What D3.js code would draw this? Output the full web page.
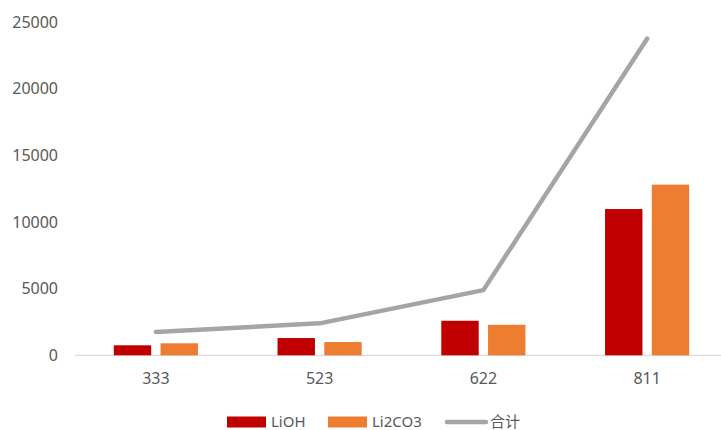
<!DOCTYPE html>
<html>
<head>
<meta charset="utf-8">
<script src="https://cdn.jsdelivr.net/npm/d3@7"></script>
<style>
  html, body { margin: 0; padding: 0; background: #fff; }
  svg { display: block; }
  text { font-family: "Noto Sans", "Noto Sans CJK SC", sans-serif; fill: #595959; }
</style>
</head>
<body>
<svg id="chart" width="721" height="430"></svg>
<script>
// Cathode grade categories and lithium salt demand per grade
const categories = ["333", "523", "622", "811"];
const lioh = [750, 1295, 2590, 10970];
const li2co3 = [900, 995, 2290, 12800];
const total = [1750, 2395, 4890, 23750];
const yTicks = [0, 5000, 10000, 15000, 20000, 25000];
const seriesNames = ["LiOH", "Li2CO3"];
const totalName = "合计";

const colors = { LiOH: "#C00000", Li2CO3: "#ED7D31", total: "#A5A5A5" };

const svg = d3.select("#chart");
const plot = { left: 74, right: 729, top: 22, bottom: 355.3 };

const x = d3.scaleBand().domain(categories).range([plot.left, plot.right]).padding(0);
const y = d3.scaleLinear().domain([0, 25000]).range([plot.bottom, plot.top]);

const bw = x.bandwidth();
const xSub = d3.scaleBand().domain(seriesNames)
  .range([0.243 * bw, 0.757 * bw]).paddingInner(0.2).paddingOuter(0);

// Y axis labels (no axis line, no gridlines)
const yAxis = d3.axisLeft(y).tickValues(yTicks).tickSize(0).tickPadding(0)
  .tickFormat(d3.format("d"));
const yG = svg.append("g").attr("transform", `translate(58,0)`).call(yAxis);
yG.select(".domain").remove();
yG.selectAll("text").style("font-size", "16px").attr("fill", "#595959")
  .attr("font-family", "Noto Sans");

// Category axis
const xAxis = d3.axisBottom(x).tickSize(0).tickPadding(17);
const xG = svg.append("g").attr("transform", `translate(0,${plot.bottom})`).call(xAxis);
xG.select(".domain").remove();
xG.selectAll("text").style("font-size", "16px").attr("fill", "#595959")
  .attr("font-family", "Noto Sans");

svg.append("line")
  .attr("x1", plot.left + 1).attr("x2", 721)
  .attr("y1", y(0)).attr("y2", y(0))
  .attr("stroke", "#D9D9D9").attr("stroke-width", 1.3);

// Bars
const rows = categories.map((c, i) => ({ cat: c, LiOH: lioh[i], Li2CO3: li2co3[i] }));
const groups = svg.append("g").selectAll("g").data(rows).join("g")
  .attr("transform", d => `translate(${x(d.cat)},0)`);
groups.selectAll("rect")
  .data(d => seriesNames.map(k => ({ key: k, value: d[k] })))
  .join("rect")
  .attr("x", d => xSub(d.key))
  .attr("width", xSub.bandwidth())
  .attr("y", d => y(d.value))
  .attr("height", d => y(0) - y(d.value))
  .attr("fill", d => colors[d.key]);

// Total line
const line = d3.line()
  .x((d, i) => x(categories[i]) + bw / 2)
  .y(d => y(d));
svg.append("path")
  .datum(total)
  .attr("d", line)
  .attr("fill", "none")
  .attr("stroke", colors.total)
  .attr("stroke-width", 4.5)
  .attr("stroke-linecap", "round")
  .attr("stroke-linejoin", "round");

// Legend
const lg = svg.append("g");
const legendY = 421.5;
const items = [
  { type: "rect", name: "LiOH", color: colors.LiOH, sx: 227, tx: 271 },
  { type: "rect", name: "Li2CO3", color: colors.Li2CO3, sx: 328, tx: 372 },
  { type: "line", name: totalName, color: colors.total, sx: 445, tx: 490 }
];
items.forEach(it => {
  if (it.type === "rect") {
    lg.append("rect").attr("x", it.sx).attr("y", legendY - 5)
      .attr("width", 39).attr("height", 11).attr("fill", it.color);
  } else {
    lg.append("line").attr("x1", it.sx + 2).attr("x2", it.sx + 41)
      .attr("y1", legendY + 0.5).attr("y2", legendY + 0.5)
      .attr("stroke", it.color).attr("stroke-width", 4.5).attr("stroke-linecap", "round");
  }
  lg.append("text").attr("x", it.tx).attr("y", legendY).attr("dy", "0.35em")
    .style("font-size", "15px").text(it.name);
});
</script>
</body>
</html>
